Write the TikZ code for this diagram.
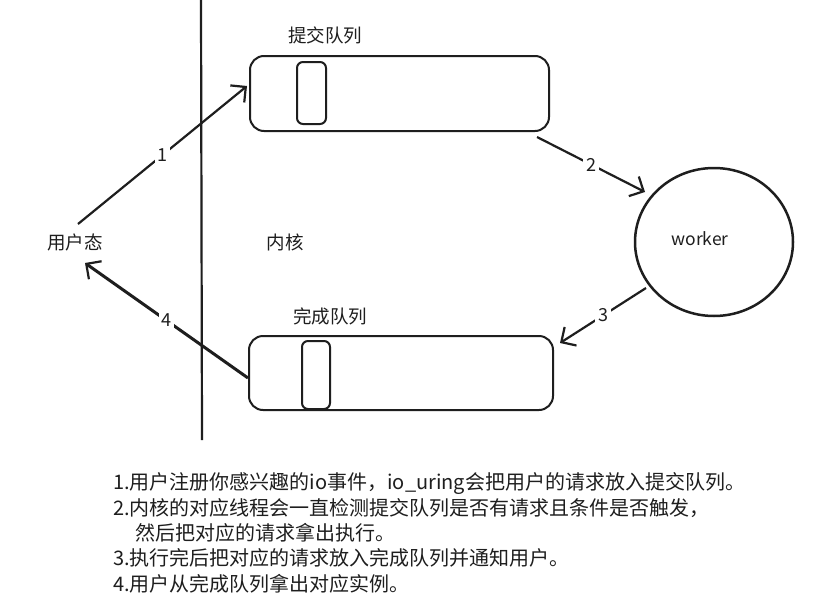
\documentclass[tikz,border=0pt]{standalone}
\usepackage{fontspec}
\setmainfont{Noto Sans CJK SC}
\usetikzlibrary{arrows.meta,shapes.geometric}
\definecolor{ink}{HTML}{1E1E1E}
\tikzset{
  queuebox/.style={draw=ink,line width=2pt,rounded corners=14pt,inner sep=0pt},
  slotbox/.style={draw=ink,line width=2pt,rounded corners=6pt,inner sep=0pt},
  lbl/.style={text=ink,font=\fontsize{18.5}{20}\selectfont,inner sep=0pt},
  flow/.style={draw=ink,line width=2.2pt,-{Straight Barb[length=11pt,width=22pt,line width=2.2pt]}},
  numlbl/.style={fill=white,text=ink,font=\fontsize{18}{20}\selectfont,inner sep=3pt},
  note/.style={text=ink,font=\fontsize{20}{22}\selectfont,anchor=west,inner sep=0pt}
}
\begin{document}
\begin{tikzpicture}[x=1pt,y=-1pt]
\useasboundingbox[fill=white] (0,0) rectangle (836,608);
% divider
\coordinate (vtop) at (201,0);
\coordinate (vbot) at (202,440);
\draw[ink,line width=2.2pt] (vtop) -- (vbot);
% queues
\node[queuebox,minimum width=299pt,minimum height=75pt] (sq) at (399.5,93.5) {};
\node[slotbox,minimum width=29pt,minimum height=62pt] (sqs) at (311.5,93) {};
\node[queuebox,minimum width=304pt,minimum height=74pt] (cq) at (401,373) {};
\node[slotbox,minimum width=28pt,minimum height=68pt] (cqs) at (316,375) {};
\node[lbl] (sqt) at (325,35) {提交队列};
\node[lbl] (cqt) at (330,316) {完成队列};
% worker
\node[ellipse,draw=ink,line width=2.5pt,minimum width=158pt,minimum height=148pt] (wk) at (714,242) {};
\node[lbl,font=\fontsize{17.5}{19}\selectfont] (wkt) at (700,239) {worker};
% side labels
\node[lbl] (user) at (75,242) {用户态};
\node[lbl] (kern) at (285,242) {内核};
% arrows
\coordinate (a1s) at (78,224);
\coordinate (a1e) at (247,86);
\coordinate (a2s) at (537,137);
\coordinate (a2e) at (645,192);
\coordinate (a3s) at (646,288);
\coordinate (a3e) at (560,343);
\coordinate (a4s) at (248,378);
\coordinate (a4e) at (85,263);
\draw[flow] (a1s) -- node[numlbl] {1} (a1e);
\draw[flow] (a2s) -- node[numlbl] {2} (a2e);
\draw[flow] (a3s) -- node[numlbl] {3} (a3e);
\draw[flow,line width=3pt] (a4s) -- node[numlbl] {4} (a4e);
% notes
\node[note] (n1) at (113,484) {1.用户注册你感兴趣的io事件，io\_uring会把用户的请求放入提交队列。};
\node[note] (n2) at (113,508) {2.内核的对应线程会一直检测提交队列是否有请求且条件是否触发，};
\node[note] (n3) at (135,533) {然后把对应的请求拿出执行。};
\node[note] (n4) at (113,558) {3.执行完后把对应的请求放入完成队列并通知用户。};
\node[note] (n5) at (113,584) {4.用户从完成队列拿出对应实例。};
\end{tikzpicture}
\end{document}
